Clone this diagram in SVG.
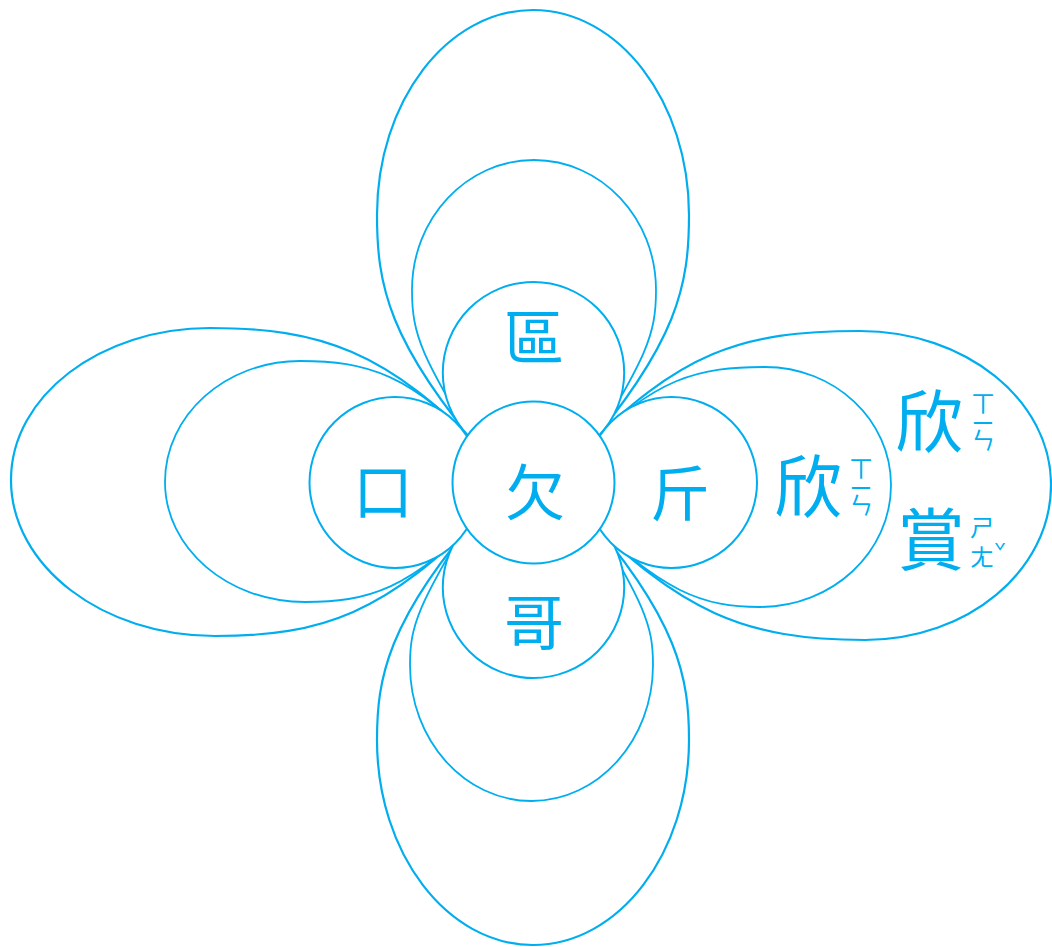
<svg xmlns="http://www.w3.org/2000/svg" width="1052" height="947" viewBox="0 0 1052 947">
<style>
.p3{fill:none;stroke:#00AEEF;stroke-width:2.2}
.p2{fill:none;stroke:#00AEEF;stroke-width:1.8}
.c{fill:#fff;stroke:#00AEEF;stroke-width:2}
.t{fill:#00AEEF;font-family:"Noto Sans CJK TC","Noto Sans CJK SC",sans-serif;text-anchor:middle}
.z{fill:#00AEEF;font-family:"Noto Sans CJK TC","Noto Sans CJK SC",sans-serif;font-size:24px;writing-mode:vertical-rl;text-anchor:start}
.tone{fill:#00AEEF;font-family:"Noto Sans CJK TC","Noto Sans CJK SC",sans-serif;font-size:20px;text-anchor:middle}
</style>
<rect width="1052" height="947" fill="#fff"/>
<g id="petals-outer">
<path id="top-outer" class="p3" d="M 485.5,455.8 C 388,342 377,285 377,215 C 377,101.8 446.9,10 533,10 C 619.1,10 689,101.8 689,215 C 689,285 678,342 580.5,455.8"/>
<path id="bottom-outer" class="p3" d="M 485.5,508.2 C 386,620 377,680 377,740 C 377,853.2 446.9,945 533,945 C 619.1,945 689,853.2 689,740 C 689,680 680,620 580.5,508.2"/>
<path id="left-outer" class="p3" d="M 487,454.3 C 386,350 320,328 210,328 C 100.2,328 11,396 11,480 C 11,566 102.4,636 215,636 C 322,636 386,614 487,509.7"/>
</g>
<g id="node-xinshang">
<path class="p3" d="M 579,454.3 C 680,352 740,331 860,331 C 965.4,331 1051,400 1051,485 C 1051,570.6 967.7,640 865,640 C 745,640 680,612 579,509.7"/>
<text class="t" x="929" y="447" font-size="68">欣</text>
<text class="z" x="983" y="391" letter-spacing="-3">ㄒㄧㄣ</text>
<text class="t" x="931" y="565" font-size="68">賞</text>
<text class="z" x="982" y="515" letter-spacing="6">ㄕㄤ</text>
<text class="tone" x="1000" y="560">ˇ</text>
</g>
<g id="petals-middle">
<path id="top-middle" class="p2" d="M 483.6,458.5 C 421.2,356.5 412,335 412,290 C 412,218.2 466.6,160 534,160 C 601.4,160 656,218.2 656,290 C 656,335 646.8,356.5 584.4,458.5"/>
<path id="bottom-middle" class="p2" d="M 478,505.5 C 418,605 410,625 410,665 C 410,740 464.5,801 531.5,801 C 598.5,801 653,740 653,665 C 653,625 645,605 585,505.5"/>
<path id="left-middle" class="p2" d="M 487,454.3 C 411,373 366,361 300,361 C 225.5,361 165,415.2 165,482 C 165,548.2 227.7,602 305,602 C 366,602 411,591 487,509.7"/>
</g>
<g id="node-xin">
<path class="p2" d="M 579,454.3 C 655,376 700,367 765,367 C 834.6,367 891,419.9 891,485 C 891,552.3 832.3,607 760,607 C 705,607 662,594 579,509.7"/>
<text class="t" x="808" y="512" font-size="68">欣</text>
<text class="z" x="861" y="456" letter-spacing="-3">ㄒㄧㄣ</text>
</g>
<g id="node-qu">
<circle class="c" cx="533.5" cy="372.7" r="90.7"/>
<text class="t" x="534" y="360" font-size="60">區</text>
</g>
<g id="node-ge">
<circle class="c" cx="533.5" cy="587.3" r="90.7"/>
<text class="t" x="534" y="645" font-size="60">哥</text>
</g>
<g id="node-kou">
<circle class="c" cx="395" cy="482.5" r="85.5"/>
<text class="t" x="383" y="514" font-size="60">口</text>
</g>
<g id="node-jin">
<circle class="c" cx="671.5" cy="482.5" r="85.5"/>
<text class="t" x="680" y="516" font-size="60">斤</text>
</g>
<g id="node-qian">
<circle class="c" cx="533.5" cy="482.5" r="81"/>
<text class="t" x="535" y="515" font-size="60">欠</text>
</g>
</svg>
